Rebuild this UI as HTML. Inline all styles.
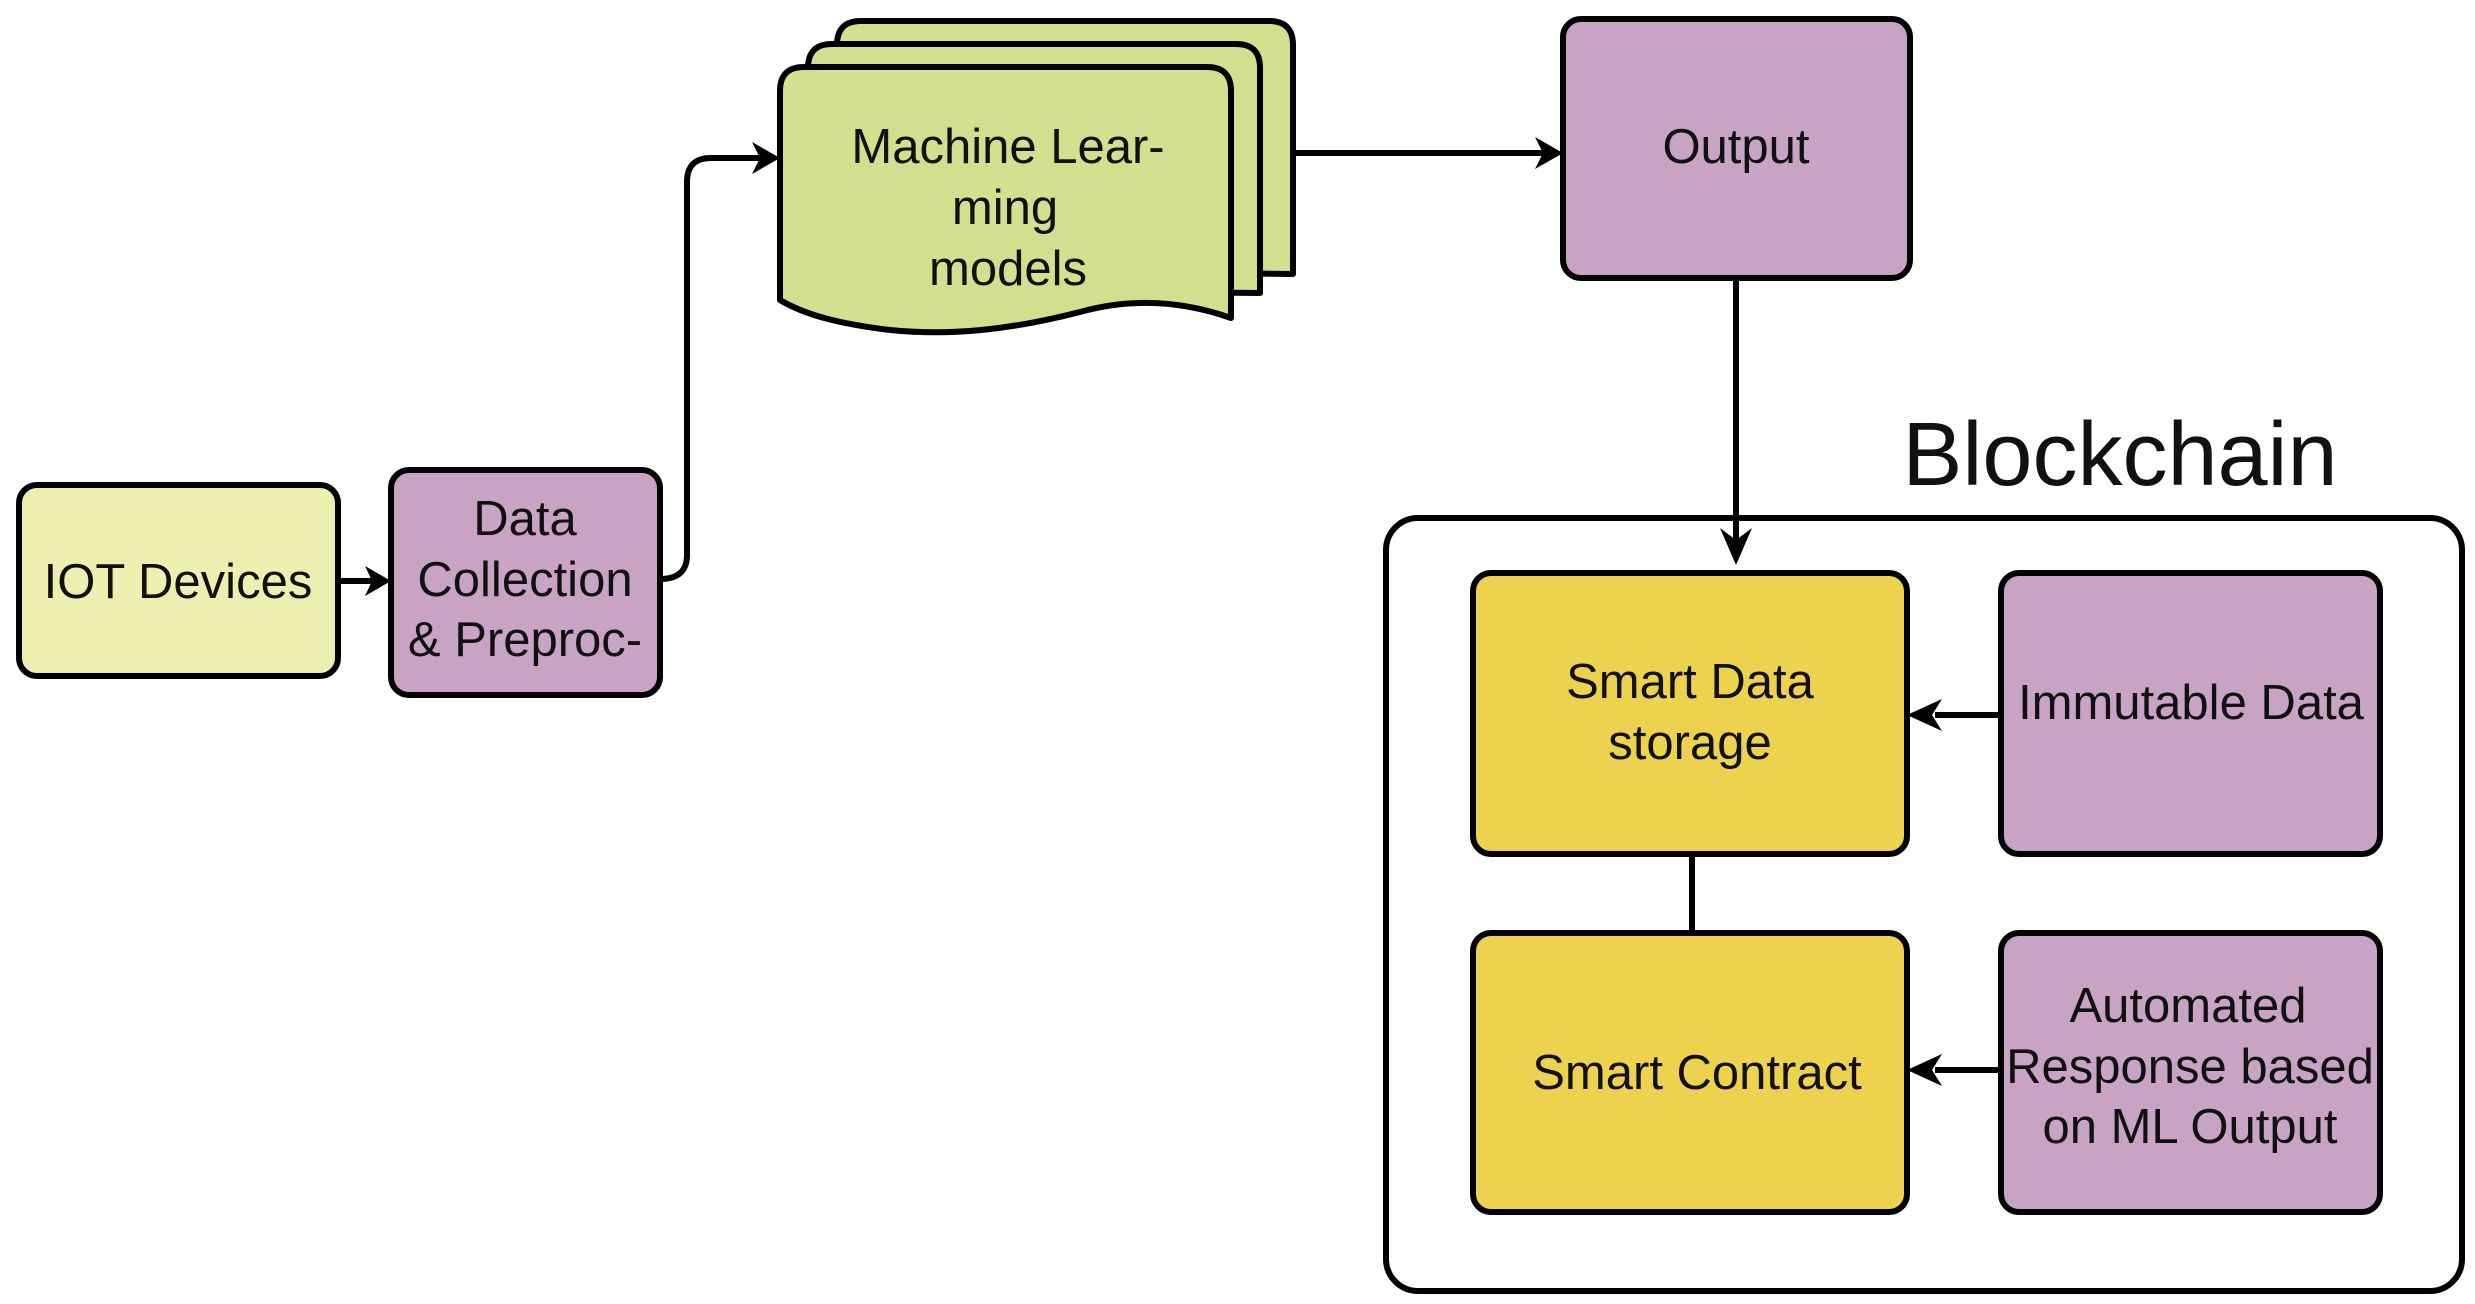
<!DOCTYPE html>
<html><head><meta charset="utf-8"><style>
html,body{margin:0;padding:0;background:#fff;}
svg{display:block;}
text{font-family:"Liberation Sans",sans-serif;font-size:49px;fill:#111;text-anchor:middle;}
</style></head><body>
<svg width="2475" height="1304" viewBox="0 0 2475 1304" xmlns="http://www.w3.org/2000/svg">
<g stroke="#000" stroke-width="6" stroke-linejoin="round">
<rect x="19" y="485" width="319" height="191" rx="18" fill="#ecefb0"/>
<rect x="391" y="470" width="269" height="225" rx="18" fill="#c9a3c4"/>
<path d="M837,268 L837,45 Q837,21 861,21 L1269,21 Q1293,21 1293,45 L1293,274 Z" fill="#d0e08e"/>
<path d="M808,289 L808,68 Q808,44 832,44 L1236,44 Q1260,44 1260,68 L1260,293 Z" fill="#d0e08e"/>
<path d="M780,300 L780,91 Q780,67 804,67 L1207,67 Q1231,67 1231,91 L1231,318 C1180,300 1130,298 1080,312 C1010,330 950,336 890,330 C840,324 805,315 780,300 Z" fill="#d0e08e"/>
<rect x="1563" y="19" width="347" height="259" rx="18" fill="#c9a3c4"/>
<rect x="1386" y="518" width="1076" height="773" rx="32" fill="#fff"/>
<rect x="1473" y="573" width="434" height="281" rx="18" fill="#ecd24e"/>
<rect x="2001" y="573" width="379" height="281" rx="18" fill="#c9a3c4"/>
<rect x="1473" y="933" width="434" height="279" rx="18" fill="#ecd24e"/>
<rect x="2001" y="933" width="379" height="279" rx="18" fill="#c9a3c4"/>
<line x1="1692" y1="854" x2="1692" y2="933" fill="none"/>
<line x1="338" y1="581" x2="372" y2="581" fill="none"/>
<path d="M660,579 Q687,579 687,555 L687,182 Q687,158 711,158 L760,158" fill="none"/>
<line x1="1293" y1="153" x2="1543" y2="153" fill="none"/>
<line x1="1736" y1="278" x2="1736" y2="540" fill="none"/>
<line x1="2001" y1="715" x2="1935" y2="715" fill="none"/>
<line x1="2001" y1="1070" x2="1935" y2="1070" fill="none"/>
</g>
<g fill="#000">
<polygon points="391,581 365,566 372,581 365,596"/>
<polygon points="780,158 752,142 760,158 752,174"/>
<polygon points="1563,153 1535,137 1543,153 1535,169"/>
<polygon points="1736,565 1720,528 1736,540 1752,528"/>
<polygon points="1907,715 1942,699 1932,715 1942,731"/>
<polygon points="1907,1070 1942,1054 1932,1070 1942,1086"/>
</g>
<text x="178" y="598">IOT Devices</text>
<text x="525" y="535">Data</text>
<text x="525" y="596">Collection</text>
<text x="525" y="656">&amp; Preproc-</text>
<text x="1008" y="163">Machine Lear-</text>
<text x="1005" y="224">ming</text>
<text x="1008" y="285">models</text>
<text x="1736" y="163">Output</text>
<text x="2120" y="485" style="font-size:90px">Blockchain</text>
<text x="1690" y="698">Smart Data</text>
<text x="1690" y="759">storage</text>
<text x="2191" y="719">Immutable Data</text>
<text x="1697" y="1089">Smart Contract</text>
<text x="2188" y="1022">Automated</text>
<text x="2190" y="1083">Response based</text>
<text x="2190" y="1143">on ML Output</text>
</svg>
</body></html>
